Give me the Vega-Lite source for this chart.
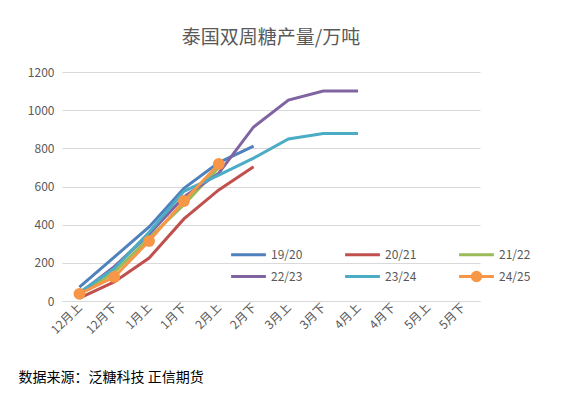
{
  "$schema": "https://vega.github.io/schema/vega-lite/v6.json",
  "autosize": {"type": "none"},
  "width": 418,
  "height": 229,
  "padding": {"left": 62, "top": 72, "right": 100, "bottom": 95},
  "background": "white",
  "title": {
    "text": "泰国双周糖产量/万吨",
    "font": "Noto Sans CJK SC",
    "fontSize": 19,
    "fontWeight": "normal",
    "color": "#595959",
    "anchor": "middle",
    "offset": 18
  },
  "config": {
    "view": {"stroke": null},
    "font": "Noto Sans CJK SC"
  },
  "data": {
    "values": [
      {"t": "12月上", "s": "19/20", "v": 73},
      {"t": "12月下", "s": "19/20", "v": 230},
      {"t": "1月上", "s": "19/20", "v": 388},
      {"t": "1月下", "s": "19/20", "v": 590},
      {"t": "2月上", "s": "19/20", "v": 725},
      {"t": "2月下", "s": "19/20", "v": 812},
      {"t": "12月上", "s": "20/21", "v": 15},
      {"t": "12月下", "s": "20/21", "v": 100},
      {"t": "1月上", "s": "20/21", "v": 225},
      {"t": "1月下", "s": "20/21", "v": 430},
      {"t": "2月上", "s": "20/21", "v": 582},
      {"t": "2月下", "s": "20/21", "v": 703},
      {"t": "12月上", "s": "21/22", "v": 35},
      {"t": "12月下", "s": "21/22", "v": 150},
      {"t": "1月上", "s": "21/22", "v": 330},
      {"t": "1月下", "s": "21/22", "v": 505},
      {"t": "2月上", "s": "21/22", "v": 700},
      {"t": "12月上", "s": "22/23", "v": 40},
      {"t": "12月下", "s": "22/23", "v": 180},
      {"t": "1月上", "s": "22/23", "v": 350},
      {"t": "1月下", "s": "22/23", "v": 545},
      {"t": "2月上", "s": "22/23", "v": 670},
      {"t": "2月下", "s": "22/23", "v": 912},
      {"t": "3月上", "s": "22/23", "v": 1053},
      {"t": "3月下", "s": "22/23", "v": 1100},
      {"t": "4月上", "s": "22/23", "v": 1100},
      {"t": "12月上", "s": "23/24", "v": 45},
      {"t": "12月下", "s": "23/24", "v": 170},
      {"t": "1月上", "s": "23/24", "v": 360},
      {"t": "1月下", "s": "23/24", "v": 575},
      {"t": "2月上", "s": "23/24", "v": 660},
      {"t": "2月下", "s": "23/24", "v": 749},
      {"t": "3月上", "s": "23/24", "v": 849},
      {"t": "3月下", "s": "23/24", "v": 878},
      {"t": "4月上", "s": "23/24", "v": 878},
      {"t": "12月上", "s": "24/25", "v": 37},
      {"t": "12月下", "s": "24/25", "v": 126},
      {"t": "1月上", "s": "24/25", "v": 314},
      {"t": "1月下", "s": "24/25", "v": 524},
      {"t": "2月上", "s": "24/25", "v": 718}
    ]
  },
  "encoding": {
    "x": {
      "field": "t",
      "type": "nominal",
      "sort": null,
      "scale": {
        "domain": ["12月上", "12月下", "1月上", "1月下", "2月上", "2月下", "3月上", "3月下", "4月上", "4月下", "5月上", "5月下"],
        "paddingOuter": 0.5
      },
      "axis": {
        "title": "数据来源：泛糖科技 正信期货",
        "titleAnchor": "start",
        "titleX": -44,
        "titleY": 69,
        "titleFontSize": 14,
        "titleFontWeight": "normal",
        "titleColor": "#000000",
        "labelAngle": -45,
        "labelAlign": "right",
        "labelBaseline": "middle",
        "labelFontSize": 12,
        "labelColor": "#595959",
        "labelPadding": 4,
        "ticks": false,
        "domainColor": "#d9d9d9",
        "domainWidth": 1,
        "grid": false
      }
    },
    "y": {
      "field": "v",
      "type": "quantitative",
      "scale": {"domain": [0, 1200]},
      "axis": {
        "title": null,
        "format": "d",
        "values": [0, 200, 400, 600, 800, 1000, 1200],
        "domain": false,
        "ticks": false,
        "labelFontSize": 12,
        "labelColor": "#595959",
        "labelPadding": 8,
        "gridColor": "#d9d9d9"
      }
    },
    "color": {
      "field": "s",
      "type": "nominal",
      "scale": {
        "domain": ["19/20", "20/21", "21/22", "22/23", "23/24", "24/25"],
        "range": ["#4F81BD", "#C0504D", "#9BBB59", "#8064A2", "#4BACC6", "#F79646"]
      },
      "legend": {
        "title": null,
        "orient": "none",
        "legendX": 179,
        "legendY": 175,
        "direction": "horizontal",
        "columns": 3,
        "columnPadding": 36,
        "rowPadding": 5,
        "symbolType": "M-2.9,0H2.9",
        "symbolSize": 144,
        "symbolStrokeWidth": 3,
        "labelFontSize": 12,
        "labelColor": "#595959",
        "labelOffset": 15,
        "encode": {
          "symbols": {
            "update": {
              "shape": {"signal": "datum.value === '24/25' ? 'M-2.9,0H2.9M-0.7,0A0.7,0.7 0 1,1 0.7,0A0.7,0.7 0 1,1 -0.7,0Z' : 'M-2.9,0H2.9'"},
              "fill": {"signal": "datum.value === '24/25' ? '#F79646' : 'transparent'"}
            }
          }
        }
      }
    }
  },
  "layer": [
    {"mark": {"type": "line", "strokeWidth": 3}},
    {
      "transform": [{"filter": "datum.s === '24/25'"}],
      "mark": {"type": "point", "filled": true, "size": 140, "opacity": 1}
    }
  ]
}
